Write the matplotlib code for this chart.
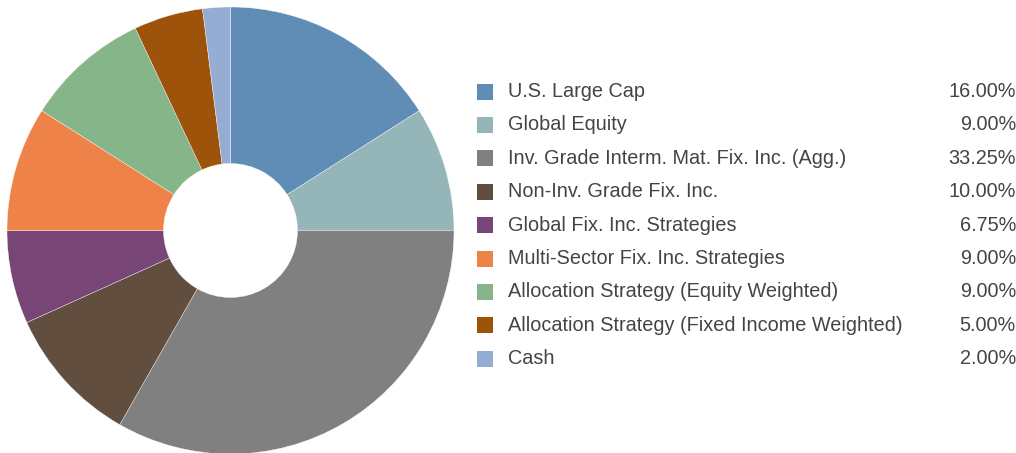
import matplotlib
matplotlib.use("Agg")
import matplotlib.pyplot as plt
from matplotlib.patches import Rectangle

plt.rcParams["font.family"] = ["Liberation Sans", "DejaVu Sans"]

categories = [
    "U.S. Large Cap",
    "Global Equity",
    "Inv. Grade Interm. Mat. Fix. Inc. (Agg.)",
    "Non-Inv. Grade Fix. Inc.",
    "Global Fix. Inc. Strategies",
    "Multi-Sector Fix. Inc. Strategies",
    "Allocation Strategy (Equity Weighted)",
    "Allocation Strategy (Fixed Income Weighted)",
    "Cash",
]
weights = [16.00, 9.00, 33.25, 10.00, 6.75, 9.00, 9.00, 5.00, 2.00]
colors = ["#5F8DB5", "#95B6B9", "#808080", "#614E3F", "#784577",
          "#EE8249", "#86B58A", "#9E530B", "#95ADD3"]

W, H = 1016, 453
fig = plt.figure(figsize=(W / 100, H / 100), dpi=100)
ax = fig.add_axes([0, 0, 1, 1])
ax.set_xlim(0, W)
ax.set_ylim(0, H)
ax.set_aspect("equal")
ax.axis("off")

# donut, starting at 12 o'clock and running clockwise
outer_r, inner_r = 223.5, 67
ax.pie(weights, colors=colors, startangle=90, counterclock=False,
       center=(230.5, H - 230.5), radius=outer_r,
       wedgeprops=dict(width=outer_r - inner_r, edgecolor="white",
                       linewidth=0.25))
ax.set_xlim(0, W)
ax.set_ylim(0, H)

# legend rows with values on the right
row0, step = 91.5, 33.4
for i, (name, val, col) in enumerate(zip(categories, weights, colors)):
    y = H - (row0 + i * step)
    ax.add_patch(Rectangle((477, y - 8), 16, 16, facecolor=col,
                           edgecolor="none"))
    ax.text(508, y, name, fontsize=14.3, color="#444444",
            va="center", ha="left")
    ax.text(1016, y, "{:.2f}%".format(val), fontsize=14.3, color="#444444",
            va="center", ha="right")

fig.savefig("out.png", dpi=100)
